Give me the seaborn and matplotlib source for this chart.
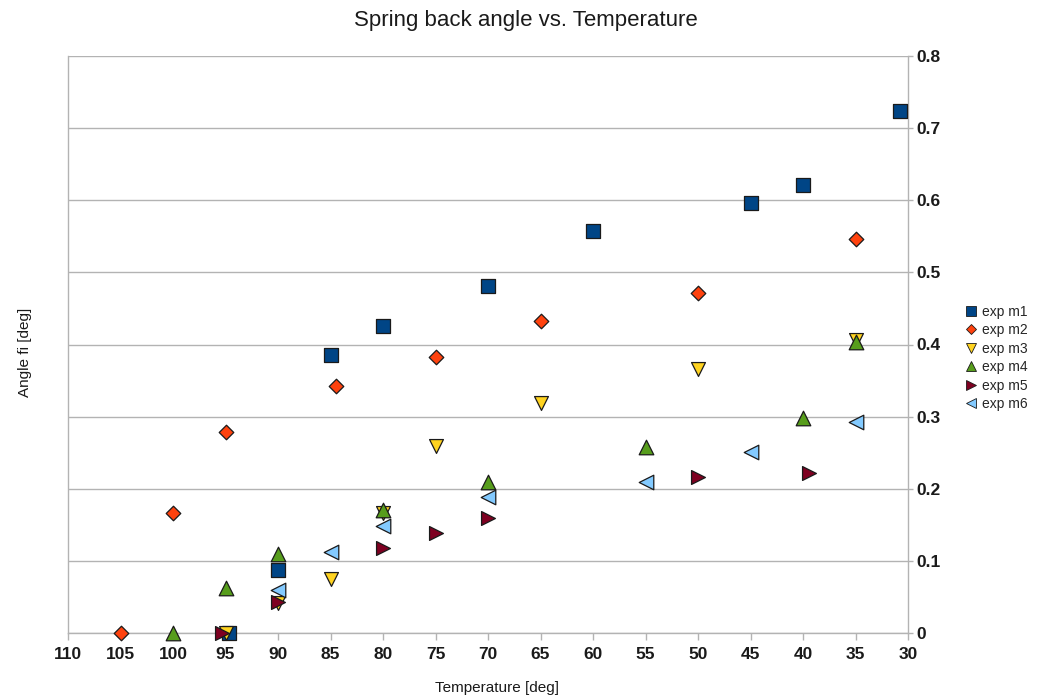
import matplotlib
matplotlib.use("Agg")
import matplotlib.pyplot as plt
from matplotlib.lines import Line2D
import seaborn as sns
import pandas as pd

# ---- data ----
m1_temp = [94.7, 90, 85, 80, 70, 60, 45, 40, 30.8]
m1_angle = [0.0, 0.087, 0.386, 0.426, 0.481, 0.557, 0.596, 0.621, 0.724]

m2_temp = [105, 100, 95, 84.5, 75, 65, 50, 35]
m2_angle = [0.0, 0.167, 0.279, 0.342, 0.383, 0.433, 0.471, 0.546]

m3_temp = [95, 90, 85, 80, 75, 65, 50, 35]
m3_angle = [0.0, 0.042, 0.075, 0.166, 0.259, 0.319, 0.366, 0.406]

m4_temp = [100, 95, 90, 80, 70, 55, 40, 35]
m4_angle = [0.0, 0.062, 0.110, 0.171, 0.209, 0.258, 0.298, 0.404]

m5_temp = [95.3, 90, 80, 75, 70, 50, 39.4]
m5_angle = [0.0, 0.043, 0.118, 0.139, 0.160, 0.216, 0.222]

m6_temp = [90, 85, 80, 70, 55, 45, 35]
m6_angle = [0.060, 0.112, 0.148, 0.189, 0.210, 0.251, 0.293]

series_names = ["exp m1", "exp m2", "exp m3", "exp m4", "exp m5", "exp m6"]
x_ticks = [110, 105, 100, 95, 90, 85, 80, 75, 70, 65, 60, 55, 50, 45, 40, 35, 30]
y_ticks = [0, 0.1, 0.2, 0.3, 0.4, 0.5, 0.6, 0.7, 0.8]
y_tick_labels = ["0", "0.1", "0.2", "0.3", "0.4", "0.5", "0.6", "0.7", "0.8"]

title = "Spring back angle vs. Temperature"
x_label = "Temperature [deg]"
y_label = "Angle fi [deg]"

# ---- styling ----
colors = ["#004586", "#ff420e", "#ffd320", "#579d1c", "#7e0021", "#83caff"]
markers = ["s", "D", "v", "^", ">", "<"]
sizes = [110, 55, 100, 110, 100, 110]

sns.set_style("white")
plt.rcParams["font.family"] = ["Liberation Sans", "DejaVu Sans"]

temps = [m1_temp, m2_temp, m3_temp, m4_temp, m5_temp, m6_temp]
angles = [m1_angle, m2_angle, m3_angle, m4_angle, m5_angle, m6_angle]
frames = []
for name, t, a in zip(series_names, temps, angles):
    frames.append(pd.DataFrame({"Temperature": t, "Angle": a, "series": name}))
df = pd.concat(frames, ignore_index=True)

fig = plt.figure(figsize=(10.41, 6.96), dpi=100)
ax = fig.add_axes([68 / 1041, 1 - 633 / 696, (908 - 68) / 1041, (633 - 56) / 696])

for name, c, m, s in zip(series_names, colors, markers, sizes):
    sub = df[df["series"] == name]
    sns.scatterplot(data=sub, x="Temperature", y="Angle", ax=ax, color=c,
                    marker=m, s=s, edgecolor="#1a1a1a", linewidth=0.9,
                    legend=False, zorder=3, clip_on=False)

ax.set_xlim(110, 30)
ax.set_ylim(0, 0.8)
ax.set_xticks(x_ticks)
ax.set_xticklabels([str(v) for v in x_ticks], fontsize=12.5, fontweight="bold", color="#1a1a1a")
ax.set_yticks(y_ticks)
ax.set_yticklabels(y_tick_labels, fontsize=12.5, fontweight="bold", color="#1a1a1a")
ax.yaxis.tick_right()
ax.tick_params(axis="y", which="both", direction="out", length=3.5, color="#b3b3b3",
               width=1, pad=2.5, right=True, left=False)
ax.tick_params(axis="x", which="both", direction="out", length=5, color="#b3b3b3",
               width=1, pad=5, bottom=True)
ax.grid(axis="y", color="#b3b3b3", linewidth=1)
ax.grid(axis="x", visible=False)
ax.set_axisbelow(True)
for side in ["left", "right", "bottom"]:
    ax.spines[side].set_color("#b3b3b3")
    ax.spines[side].set_linewidth(1)
ax.spines["top"].set_visible(False)
ax.set_xlabel("")
ax.set_ylabel("")

fig.text(0.505, 1 - 26 / 696, title, ha="center", va="baseline", fontsize=16, color="#1a1a1a")
fig.text(497 / 1041, 1 - 688 / 696, x_label, ha="center", va="center", fontsize=11, color="#1a1a1a")
fig.text(25 / 1041, 1 - 352 / 696, y_label, ha="center", va="center", rotation=90,
         fontsize=11, color="#1a1a1a")

handles = [Line2D([0], [0], marker=m, color="none", markerfacecolor=c,
                  markeredgecolor="#1a1a1a", markeredgewidth=0.6,
                  markersize=(6.5 if m != "D" else 5), linestyle="none")
           for c, m in zip(colors, markers)]
fig.legend(handles, series_names, loc="center left",
           bbox_to_anchor=(958 / 1041, 1 - 358 / 696), frameon=False,
           fontsize=10, handlelength=0.8, handletextpad=0.4, labelspacing=0.32,
           borderpad=0)

fig.savefig("out.png", dpi=100)
